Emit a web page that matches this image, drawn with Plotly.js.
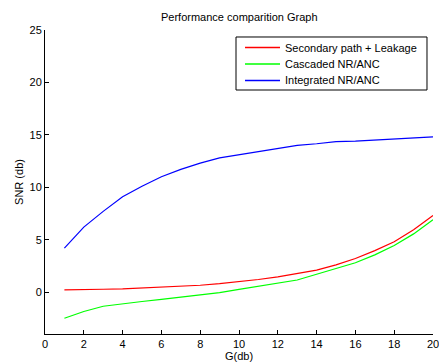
<!DOCTYPE html>
<html>
<head>
<meta charset="utf-8">
<script src="https://cdn.plot.ly/plotly-3.0.1.min.js"></script>
<style>html,body{margin:0;padding:0;background:#fff;}#chart{width:439px;height:362px;}</style>
</head>
<body>
<div id="chart"></div>
<script>
const gain = [1,2,3,4,5,6,7,8,9,10,11,12,13,14,15,16,17,18,19,20];
const secondaryLeakage = [0.2,0.2,0.27,0.3,0.37,0.45,0.55,0.65,0.8,0.98,1.2,1.45,1.75,2.1,2.6,3.2,3.95,4.8,5.95,7.3];
const cascaded = [-2.5,-1.85,-1.35,-1.1,-0.9,-0.7,-0.5,-0.32,-0.05,0.25,0.55,0.85,1.15,1.7,2.25,2.8,3.55,4.45,5.55,6.9];
const integrated = [4.2,6.2,7.7,9.1,10.1,11.0,11.7,12.3,12.8,13.1,13.45,13.7,14.0,14.15,14.35,14.4,14.5,14.6,14.7,14.8];
const seriesNames = ["Secondary path + Leakage","Cascaded NR/ANC","Integrated NR/ANC"];
const seriesColors = ["#ff0000","#00ff00","#0000ff"];
const xTicks = [0,2,4,6,8,10,12,14,16,18,20];
const yTicks = [0,5,10,15,20,25];

const fnt = {family:"Liberation Sans, Arial, sans-serif", size:11, color:"#000"};
const seriesValues = [secondaryLeakage, cascaded, integrated];
const traces = seriesValues.map((v,i)=>({x:gain, y:v, name:seriesNames[i], mode:"lines",
  line:{color:seriesColors[i], width:1.2}, showlegend:false}));

// custom legend box (paper coordinates)
const lg = {x0:0.4923, x1:0.9845, y0:0.8026, y1:0.977, lx0:0.5155, lx1:0.6057, tx:0.6134, rows:[0.9424,0.8882,0.8339]};
const shapes = [{type:"rect", xref:"paper", yref:"paper", x0:lg.x0, x1:lg.x1, y0:lg.y0, y1:lg.y1,
  line:{color:"#000", width:1}, fillcolor:"#fff", layer:"above"}];
const annotations = [];
seriesNames.forEach((n,i)=>{
  shapes.push({type:"line", xref:"paper", yref:"paper", x0:lg.lx0, x1:lg.lx1, y0:lg.rows[i], y1:lg.rows[i],
    line:{color:seriesColors[i], width:1.3}, layer:"above"});
  annotations.push({xref:"paper", yref:"paper", x:lg.tx, y:lg.rows[i], xanchor:"left", yanchor:"middle",
    text:n, showarrow:false, font:fnt});
});

const layout = {
  width:439, height:362,
  margin:{l:45, r:6, t:30, b:28},
  paper_bgcolor:"#fff", plot_bgcolor:"#fff",
  font:fnt,
  title:{text:"Performance comparition Graph", font:{family:fnt.family, size:11, color:"#000"}, x:0.545, xanchor:"center", y:0.953, yanchor:"middle"},
  xaxis:{range:[0,20], tickvals:xTicks, ticktext:xTicks.map(String), ticks:"inside", ticklen:4, tickcolor:"#000",
    showline:true, linecolor:"#000", linewidth:1, mirror:false, showgrid:false, zeroline:false, ticklabeloverflow:"allow",
    tickfont:fnt, title:{text:"G(db)", font:fnt, standoff:3}},
  yaxis:{range:[-4,25], tickvals:yTicks, ticktext:yTicks.map(String), ticks:"inside", ticklen:4, tickcolor:"#000",
    showline:true, linecolor:"#000", linewidth:1, mirror:false, showgrid:false, zeroline:false,
    tickfont:fnt, title:{text:"SNR (db)", font:fnt, standoff:3}},
  shapes:shapes,
  annotations:annotations,
  showlegend:false
};
Plotly.newPlot("chart", traces, layout, {staticPlot:true, displayModeBar:false});
</script>
</body>
</html>
